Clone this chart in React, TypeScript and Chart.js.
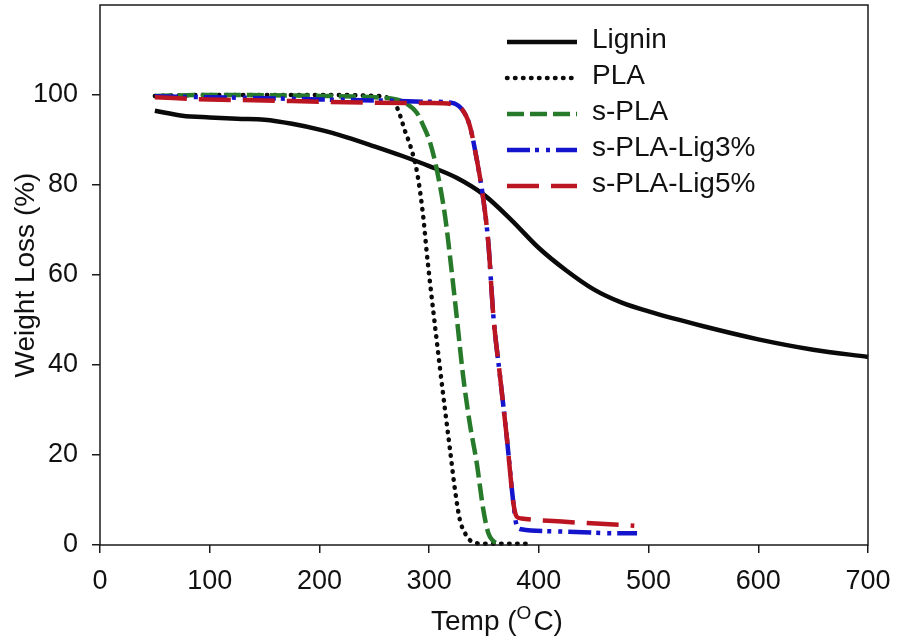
import React, { useEffect, useRef } from "react";
import { Chart, registerables } from "chart.js";

Chart.register(...registerables);

const FONT = '"Liberation Sans", Arial, sans-serif';

const xTicks = [0, 100, 200, 300, 400, 500, 600, 700];
const yTicks = [0, 20, 40, 60, 80, 100];

const ligninT = [50, 75, 100, 125, 150, 175, 200, 225, 250, 275, 300, 325, 350, 375, 400, 425, 450, 475, 500, 550, 600, 650, 700];
const ligninW = [96.5, 95.4, 95.0, 94.7, 94.5, 93.6, 92.3, 90.6, 88.6, 86.5, 84.2, 81.6, 77.8, 72.2, 66.0, 61.0, 56.8, 53.9, 51.9, 48.6, 45.7, 43.4, 41.8];

const plaT = [50, 100, 150, 200, 250, 262, 268, 272, 278, 283, 289, 294.6, 297.8, 300.8, 305.4, 310, 314.5, 319, 323.6, 328, 333, 337, 343, 350, 370, 390];
const plaW = [99.8, 100, 100, 100, 99.8, 99.4, 98.4, 96.5, 92.0, 88.6, 82.8, 73.0, 65.0, 58.3, 48.6, 39.0, 30.0, 21.2, 12.2, 5.6, 2.5, 1.1, 0.4, 0.3, 0.3, 0.3];

const sPlaT = [50, 100, 200, 250, 270, 280, 288.6, 295, 300.8, 306.9, 314.5, 320, 325, 331, 337, 343.4, 349.4, 354, 358, 362, 366];
const sPlaW = [99.8, 100, 99.8, 99.5, 99.0, 98.0, 96.1, 93.0, 89.5, 83.5, 73.1, 62.0, 51.0, 37.5, 27.1, 18.2, 7.8, 2.6, 1.0, 0.4, 0.3];

const lig3T = [50, 100, 150, 200, 250, 300, 320, 330, 337, 343.4, 349.4, 354, 358.5, 364.6, 370.7, 376.8, 379.8, 384, 421, 473.6, 489.5];
const lig3W = [99.7, 99.5, 99.3, 99.0, 98.8, 98.5, 98.3, 96.8, 93.2, 85.7, 76.8, 67.0, 51.0, 37.5, 24.1, 9.3, 4.3, 3.5, 3.0, 2.6, 2.6];

const lig5T = [50, 100, 150, 200, 250, 300, 320, 330, 337, 343.4, 349.4, 354, 358.5, 364.6, 370.7, 376.8, 379.8, 384, 421, 473.6, 487];
const lig5W = [99.5, 99.0, 98.8, 98.5, 98.3, 98.2, 98.0, 96.8, 93.2, 85.7, 76.8, 67.0, 51.0, 37.5, 24.1, 9.3, 6.3, 5.9, 5.2, 4.5, 4.3];

const labels = ["Lignin", "PLA", "s-PLA", "s-PLA-Lig3%", "s-PLA-Lig5%"];

const pts = (t: number[], w: number[]) => t.map((x, i) => ({ x, y: w[i] }));

export default function App() {
  const ref = useRef<HTMLCanvasElement | null>(null);
  useEffect(() => {
    document.body.style.margin = "0";
    const canvas = ref.current!;
    const styles = [
      { color: "#0a0a0a", width: 4.5, dash: [] as number[], cap: "butt" },
      { color: "#0a0a0a", width: 4.5, dash: [0.5, 7.5], cap: "round" },
      { color: "#277a2a", width: 4.5, dash: [17, 6], cap: "butt" },
      { color: "#1414cc", width: 4.5, dash: [23, 5, 4, 7, 4, 6], cap: "butt" },
      { color: "#bb1522", width: 4.5, dash: [32, 12], cap: "butt" },
    ];
    const series = [
      pts(ligninT, ligninW),
      pts(plaT, plaW),
      pts(sPlaT, sPlaW),
      pts(lig3T, lig3W),
      pts(lig5T, lig5W),
    ];
    const datasets = series.map((d, i) => ({
      label: labels[i],
      data: d,
      borderColor: styles[i].color,
      backgroundColor: styles[i].color,
      borderWidth: styles[i].width,
      borderDash: styles[i].dash,
      borderCapStyle: styles[i].cap as any,
      pointRadius: 0,
      fill: false,
      cubicInterpolationMode: "monotone" as const,
      order: 5 - i,
      clip: 4,
    }));

    const decor = {
      id: "decor",
      afterDraw(chart: any) {
        const { ctx, chartArea: ca } = chart;
        ctx.save();
        ctx.setLineDash([]);
        ctx.strokeStyle = "#1a1a1a";
        ctx.lineWidth = 1.5;
        ctx.strokeRect(ca.left, ca.top, ca.right - ca.left, ca.bottom - ca.top);

        // legend
        const lx0 = ca.left + 407;
        const lx1 = ca.left + 477;
        const tx = ca.left + 492;
        labels.forEach((lab, i) => {
          const y = ca.top + 37 + i * 36;
          const s = styles[i];
          ctx.beginPath();
          ctx.setLineDash(s.dash);
          ctx.lineCap = s.cap;
          ctx.lineWidth = s.width;
          ctx.strokeStyle = s.color;
          ctx.moveTo(lx0, y);
          ctx.lineTo(lx1, y);
          ctx.stroke();
          ctx.setLineDash([]);
          ctx.lineCap = "butt";
          ctx.fillStyle = "#111";
          ctx.font = `28px ${FONT}`;
          ctx.textAlign = "left";
          ctx.textBaseline = "middle";
          ctx.fillText(lab, tx, y - 2);
        });

        // y title
        ctx.save();
        ctx.translate(26, (ca.top + ca.bottom) / 2);
        ctx.rotate(-Math.PI / 2);
        ctx.font = `28px ${FONT}`;
        ctx.fillStyle = "#111";
        ctx.textAlign = "center";
        ctx.textBaseline = "middle";
        ctx.fillText("Weight Loss (%)", 0, 0);
        ctx.restore();

        // x title with superscript
        const base = 630;
        ctx.fillStyle = "#111";
        ctx.textAlign = "left";
        ctx.textBaseline = "alphabetic";
        ctx.font = `28px ${FONT}`;
        const p1 = "Temp (";
        const p2 = "O";
        const p3 = "C)";
        const w1 = ctx.measureText(p1).width;
        const w3 = ctx.measureText(p3).width;
        ctx.font = `19px ${FONT}`;
        const w2 = ctx.measureText(p2).width;
        const total = w1 + w2 + w3 + 2;
        let x = (ca.left + ca.right) / 2 + 13 - total / 2;
        ctx.font = `28px ${FONT}`;
        ctx.fillText(p1, x, base);
        x += w1;
        ctx.font = `19px ${FONT}`;
        ctx.fillText(p2, x, base - 11);
        x += w2 + 2;
        ctx.font = `28px ${FONT}`;
        ctx.fillText(p3, x, base);
        ctx.restore();
      },
    };

    const chart = new Chart(canvas, {
      type: "line",
      data: { datasets },
      options: {
        animation: false,
        responsive: false,
        parsing: false as any,
        layout: { padding: { top: 5, right: 40, left: 0, bottom: 0 } },
        plugins: { legend: { display: false }, tooltip: { enabled: false } },
        scales: {
          x: {
            type: "linear",
            min: 0,
            max: 700,
            afterBuildTicks: (s: any) => {
              s.ticks = xTicks.map((v) => ({ value: v }));
            },
            afterFit: (s: any) => {
              s.height = 99;
              s.paddingLeft = 0;
              s.paddingRight = 0;
            },
            ticks: {
              color: "#111",
              font: { family: FONT, size: 27 },
              padding: 12,
              maxRotation: 0,
              autoSkip: false,
            },
            grid: { drawOnChartArea: false, drawTicks: true, tickLength: 8, tickColor: "#1a1a1a", lineWidth: 1.5 },
            border: { display: false },
          },
          y: {
            type: "linear",
            min: 0,
            max: 120,
            afterBuildTicks: (s: any) => {
              s.ticks = yTicks.map((v) => ({ value: v }));
            },
            afterFit: (s: any) => {
              s.width = 100;
              s.paddingTop = 0;
              s.paddingBottom = 0;
            },
            ticks: {
              color: "#111",
              font: { family: FONT, size: 27 },
              padding: 14,
              autoSkip: false,
            },
            grid: { drawOnChartArea: false, drawTicks: true, tickLength: 8, tickColor: "#1a1a1a", lineWidth: 1.5 },
            border: { display: false },
          },
        },
      },
      plugins: [decor],
    });
    return () => chart.destroy();
  }, []);
  return (
    <div style={{ width: 908, height: 644 }}>
      <canvas ref={ref} width={908} height={644} style={{ display: "block", width: 908, height: 644 }} />
    </div>
  );
}
